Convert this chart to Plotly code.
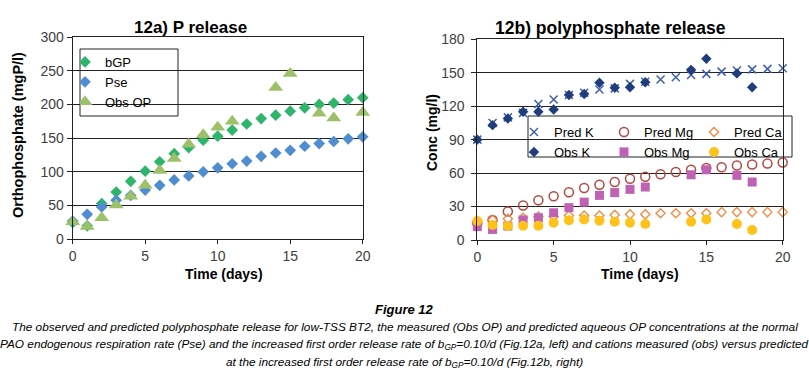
import plotly.graph_objects as go

W, H = 809, 375

# ---------------- data: 12a ----------------
days = list(range(0, 21))
bgp = [25, 20, 53, 70, 86, 101, 115, 127, 136, 147, 153, 162, 171, 179, 184, 190, 195, 200, 202, 207, 210]
pse = [27, 37, 48, 58, 65, 73, 80, 88, 94, 100, 106, 112, 116, 123, 128, 132, 138, 142, 145, 149, 152]
obs_op_days = [0, 1, 2, 3, 4, 5, 6, 7, 8, 9, 10, 11, 14, 15, 17, 18, 20]
obs_op = [26, 19, 32, 51, 64, 80, 102, 120, 141, 155, 166, 175, 225, 246, 187, 180, 188]

# ---------------- data: 12b ----------------
pred_k = [90, 105, 110, 114, 122, 126, 130, 132, 135, 136, 140, 142, 144, 146, 148, 149, 151, 152, 153, 153.5, 154]
pred_mg = [15, 18, 25.5, 31, 35.6, 39.2, 42.8, 46.6, 49.6, 52, 55, 56.7, 59, 61, 63, 64.5, 65.3, 66.8, 67.7, 68.6, 69.5]
pred_ca = [17, 18, 19, 20, 21, 21, 22, 22, 22, 22.5, 23, 23, 24, 24, 24, 24, 25, 25, 25, 25, 25]
obs_days = [0, 1, 2, 3, 4, 5, 6, 7, 8, 9, 10, 11, 14, 15, 17, 18]
obs_k = [90, 103, 109, 115, 115, 117, 130, 131, 141, 136.5, 137, 141.5, 152.6, 162.6, 149.4, 137]
obs_mg = [12, 9.5, 12.5, 18, 20, 24.4, 29, 34, 40, 42.5, 45.4, 47.5, 58.5, 63, 58, 52]
obs_ca = [17, 13.4, 12.5, 12.8, 12.8, 15.4, 17.8, 18.4, 17.2, 16.3, 15.4, 14.3, 16.3, 18.4, 14.3, 9]

x_ticks = [0, 5, 10, 15, 20]
y_ticks_a = [0, 50, 100, 150, 200, 250, 300]
y_ticks_b = [0, 30, 60, 90, 120, 150, 180]

# ---------------- helpers ----------------
def px_x(p):
    return p / W

def px_y(p):
    return 1 - p / H

FONT = "Liberation Sans, Arial, sans-serif"
TICKC = "#404040"

fig = go.Figure()

# 12a traces
fig.add_trace(go.Scatter(x=days, y=bgp, mode="markers", name="bGP",
                         marker=dict(symbol="diamond", size=9, color="#2DB56B"),
                         xaxis="x", yaxis="y", cliponaxis=False, legend="legend"))
fig.add_trace(go.Scatter(x=days, y=pse, mode="markers", name="Pse",
                         marker=dict(symbol="diamond", size=9, color="#4F8DD0"),
                         xaxis="x", yaxis="y", cliponaxis=False, legend="legend"))
fig.add_trace(go.Scatter(x=obs_op_days, y=obs_op, mode="markers", name="Obs OP",
                         marker=dict(symbol="triangle-up", size=13, color="#9DC16A"),
                         xaxis="x", yaxis="y", cliponaxis=False, legend="legend"))

# 12b traces (pred row -> legend2, obs row -> legend3)
fig.add_trace(go.Scatter(x=days, y=pred_k, mode="markers", name="Pred K",
                         marker=dict(symbol="x-thin-open", size=8, color="#3E5FAE", line=dict(width=1.5)),
                         xaxis="x2", yaxis="y2", cliponaxis=False, legend="legend2"))
fig.add_trace(go.Scatter(x=days, y=pred_mg, mode="markers", name="Pred Mg",
                         marker=dict(symbol="circle-open", size=9, color="#B5473F", line=dict(width=1.5)),
                         xaxis="x2", yaxis="y2", cliponaxis=False, legend="legend2"))
fig.add_trace(go.Scatter(x=days, y=pred_ca, mode="markers", name="Pred Ca",
                         marker=dict(symbol="diamond-open", size=7, color="#F08C45", line=dict(width=1.4)),
                         xaxis="x2", yaxis="y2", cliponaxis=False, legend="legend2"))
fig.add_trace(go.Scatter(x=obs_days, y=obs_k, mode="markers", name="Obs K",
                         marker=dict(symbol="diamond", size=8, color="#1F3C7C"),
                         xaxis="x2", yaxis="y2", cliponaxis=False, legend="legend3"))
fig.add_trace(go.Scatter(x=obs_days, y=obs_mg, mode="markers", name="Obs Mg",
                         marker=dict(symbol="square", size=9, color="#C062B4"),
                         xaxis="x2", yaxis="y2", cliponaxis=False, legend="legend3"))
fig.add_trace(go.Scatter(x=obs_days, y=obs_ca, mode="markers", name="Obs Ca",
                         marker=dict(symbol="circle", size=10, color="#FFC21A"),
                         xaxis="x2", yaxis="y2", cliponaxis=False, legend="legend3"))

axis_common = dict(showline=True, linecolor="#222", linewidth=1, mirror=True,
                   ticks="outside", tickcolor="#222", zeroline=False,
                   tickfont=dict(family=FONT, size=14, color=TICKC))

fig.update_layout(
    width=W, height=H, margin=dict(l=0, r=0, t=0, b=0, autoexpand=False),
    paper_bgcolor="white", plot_bgcolor="white",
    font=dict(family=FONT, color="black"),
    xaxis=dict(domain=[px_x(72.7), px_x(362.7)], range=[0, 20], tickvals=x_ticks,
               showgrid=False, anchor="y", ticklen=4, **axis_common),
    yaxis=dict(domain=[px_y(239.3), px_y(37)], range=[0, 300], tickvals=y_ticks_a,
               showgrid=True, gridcolor="#222", gridwidth=1, anchor="x", ticklen=5, **axis_common),
    xaxis2=dict(domain=[px_x(477.3), px_x(782.7)], range=[0, 20], tickvals=x_ticks,
                showgrid=False, anchor="y2", ticklen=4, **axis_common),
    yaxis2=dict(domain=[px_y(240), px_y(39.3)], range=[0, 180], tickvals=y_ticks_b,
                showgrid=True, gridcolor="#222", gridwidth=1, anchor="x2", ticklen=5,
                ticklabelstandoff=4, **axis_common),
    legend=dict(x=px_x(80), y=px_y(47), xanchor="left", yanchor="top",
                bgcolor="rgba(0,0,0,0)", borderwidth=0,
                font=dict(family=FONT, size=13, color="black"),
                indentation=-15, tracegroupgap=0),
    legend2=dict(x=px_x(529), y=px_y(117), xanchor="left", yanchor="top",
                 orientation="h", bgcolor="rgba(0,0,0,0)", borderwidth=0,
                 entrywidth=60, indentation=-15,
                 font=dict(family=FONT, size=13, color="black")),
    legend3=dict(x=px_x(529), y=px_y(137), xanchor="left", yanchor="top",
                 orientation="h", bgcolor="rgba(0,0,0,0)", borderwidth=0,
                 entrywidth=60, indentation=-15,
                 font=dict(family=FONT, size=13, color="black")),
    showlegend=True,
)

# legend boxes
fig.add_shape(type="rect", xref="paper", yref="paper",
              x0=px_x(80), x1=px_x(178), y0=px_y(116), y1=px_y(49),
              line=dict(color="#222", width=1), fillcolor="white", layer="below")
fig.add_shape(type="rect", xref="paper", yref="paper",
              x0=px_x(528), x1=px_x(792), y0=px_y(157), y1=px_y(116),
              line=dict(color="#222", width=1), fillcolor="white", layer="below")

ann = []
# titles
ann.append(dict(text="<b>12a) P release</b>", x=px_x(190.5), y=px_y(28), font=dict(size=17, family=FONT)))
ann.append(dict(text="<b>12b) polyphosphate release</b>", x=px_x(610), y=px_y(28), font=dict(size=17.5, family=FONT)))
# axis titles
ann.append(dict(text="<b>Time (days)</b>", x=px_x(224), y=px_y(273.5), font=dict(size=14, family=FONT)))
ann.append(dict(text="<b>Time (days)</b>", x=px_x(640), y=px_y(273.5), font=dict(size=14, family=FONT)))
ann.append(dict(text="<b>Orthophosphate (mgP/l)</b>", x=px_x(18), y=px_y(135), textangle=-90,
                font=dict(size=14.5, family=FONT)))
ann.append(dict(text="<b>Conc (mg/l)</b>", x=px_x(432), y=px_y(133), textangle=-90,
                font=dict(size=14, family=FONT)))
# caption
ann.append(dict(text="<b><i>Figure 12</i></b>", x=0.5, y=px_y(309), font=dict(size=13, family=FONT)))
cap_lines = [
    "The observed and predicted polyphosphate release for low-TSS BT2, the measured (Obs OP) and predicted aqueous OP concentrations at the normal",
    "PAO endogenous respiration rate (Pse) and the increased first order release rate of b<sub>GP</sub>=0.10/d (Fig.12a, left) and cations measured (obs) versus predicted",
    "at the increased first order release rate of b<sub>GP</sub>=0.10/d (Fig.12b, right)",
]
for i, t in enumerate(cap_lines):
    ann.append(dict(text="<i>" + t + "</i>", x=0.5, y=px_y(327 + 17.5 * i),
                    font=dict(size=11.8, family=FONT)))

for a in ann:
    a.update(xref="paper", yref="paper", showarrow=False, xanchor="center", yanchor="middle")
    a["font"].setdefault("color", "black")
fig.update_layout(annotations=ann)

fig.write_html("out.html", config={"displayModeBar": False},
               post_script="document.body.style.margin='0';")
